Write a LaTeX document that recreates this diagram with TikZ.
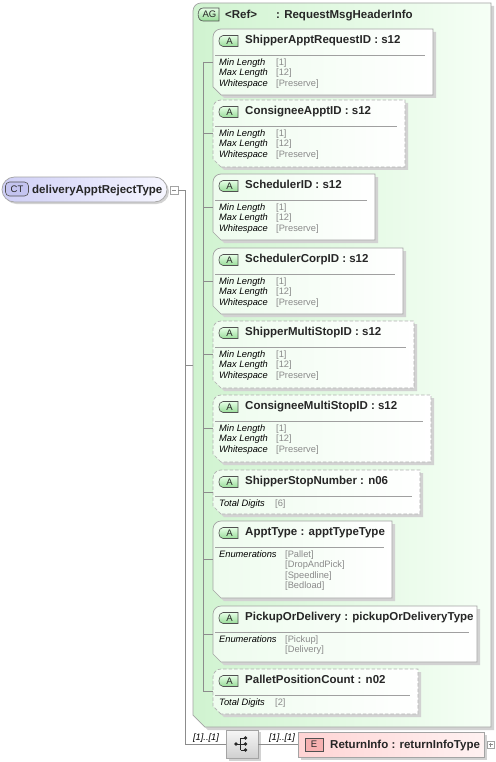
\documentclass[tikz,border=0pt]{standalone}
\usepackage{fontspec}
\setmainfont{Liberation Sans}
\definecolor{lineC}{HTML}{8C8C8C}
\definecolor{borderC}{HTML}{A4A4A4}
\definecolor{dashC}{HTML}{B0B0B0}
\definecolor{sepC}{HTML}{A0A0A0}
\definecolor{shadC}{HTML}{D2D2D2}
\definecolor{agL}{HTML}{D0F3D0}
\definecolor{agR}{HTML}{F6FFF6}
\definecolor{boxL}{HTML}{EEFCEE}
\definecolor{boxR}{HTML}{FFFFFF}
\definecolor{aTop}{HTML}{E6FFE6}
\definecolor{aBot}{HTML}{98DC98}
\definecolor{badgeB}{HTML}{505050}
\definecolor{valC}{HTML}{8A8A8A}
\definecolor{nameC}{HTML}{262626}
\definecolor{ctL}{HTML}{CFCFF6}
\definecolor{ctR}{HTML}{F6F6FF}
\definecolor{ctBadge}{HTML}{C4C4F0}
\definecolor{elL}{HTML}{FFD4D4}
\definecolor{elR}{HTML}{FFF2F2}
\definecolor{eBadge}{HTML}{F6B0B0}
\definecolor{seqT}{HTML}{F6F6F6}
\definecolor{seqB}{HTML}{D0D0D0}
\newcommand\nmfont{\fontsize{11.5}{13}\selectfont\bfseries}
\newcommand\flfont{\fontsize{9.3}{10}\selectfont\itshape}
\newcommand\fvfont{\fontsize{9.3}{10}\selectfont}
\newcommand\bdfont{\fontsize{9.5}{10}\selectfont}
\tikzset{
  x=1pt, y=-1pt,
  conn/.style={draw=lineC, line width=0.6pt},
  boxsolid/.style={draw=borderC, line width=0.7pt},
  boxdash/.style={draw=dashC, line width=0.7pt, dash pattern=on 3.5pt off 2pt},
  sepline/.style={draw=sepC, line width=0.6pt},
  badge/.style={draw=badgeB, line width=0.6pt},
  nmtext/.style={font=\nmfont, text=nameC, anchor=base west, inner sep=0pt},
  bdtext/.style={font=\bdfont, text=nameC, inner sep=0pt},
  fl/.style={font=\flfont, text=black, anchor=base west, inner sep=0pt},
  fv/.style={font=\fvfont, text=valC, anchor=base west, inner sep=0pt},
  pm/.style={draw=borderC, fill=white, line width=0.5pt, minimum size=7.5pt, inner sep=0pt},
  card/.style={font=\flfont, text=black, anchor=base, inner sep=0pt},
}
% #1 id, #2 top, #3 bottom, #4 right, #5 border style, #6 title
\newcommand\abox[6]{%
  \fill[shadC] (224,#3+3) -- (216,#3-5) -- (216,#2+3) -- (#4+3,#2+3) -- (#4+3,#3+3) -- cycle;
  \draw[#5, left color=boxL, right color=boxR] (221,#3) -- (213,#3-8) -- (213,#2+8)
     .. controls (213,#2+3.6) and (216.6,#2) .. (221,#2) -- (#4,#2) -- (#4,#3) -- cycle;
  \draw[badge, top color=aTop, bottom color=aBot] (223,#2+6.5) -- (238,#2+6.5) -- (238,#2+17.5)
     -- (223,#2+17.5) .. controls (217.5,#2+17.5) and (217.5,#2+6.5) .. (223,#2+6.5) -- cycle;
  \node[bdtext] (#1badge) at (229.5,#2+12.2) {A};
  \node[nmtext] (#1name) at (245,#2+14.5) {#6};
  \draw[sepline] (215,#2+26) -- (#4-8,#2+26);
  \coordinate (#1) at (213,{(#2+#3)/2});
}
% #1 id, #2 top
\newcommand\sfacets[2]{%
  \node[fl] (#1l1) at (219,#2+36.3) {Min Length};
  \node[fv] (#1v1) at (276,#2+36.3) {[1]};
  \node[fl] (#1l2) at (219,#2+46.8) {Max Length};
  \node[fv] (#1v2) at (276,#2+46.8) {[12]};
  \node[fl] (#1l3) at (219,#2+57.3) {Whitespace};
  \node[fv] (#1v3) at (276,#2+57.3) {[Preserve]};
}
\begin{document}
\begin{tikzpicture}
\useasboundingbox (0,0) rectangle (495,762);
\fill[white] (0,0) rectangle (495,762);

% ---------- complex type ----------
\fill[shadC, rounded corners=12.5pt] (4,179) rectangle (169,204);
\node[draw=borderC, line width=0.7pt, rounded corners=12.5pt, minimum width=165pt, minimum height=25pt,
      left color=ctL, right color=ctR, inner sep=0pt] (ct) at (84.5,189.5) {};
\node[draw=badgeB, line width=0.6pt, rounded corners=4pt, fill=ctBadge, minimum width=23pt, minimum height=14pt,
      inner sep=0pt, font=\bdfont, text=nameC] (ctbadge) at (17,189) {CT};
\node[nmtext] (ctname) at (32,193.5) {deliveryApptRejectType};
\node[pm] (minus) at (174,190) {};
\draw[lineC, line width=0.6pt] ([xshift=-2pt]minus.center) -- ([xshift=2pt]minus.center);

% ---------- attribute group ----------
\fill[shadC] (208,730) -- (196,718) -- (196,6) -- (494,6) -- (494,730) -- cycle;
\draw[boxsolid, left color=agL, right color=agR] (205,727) -- (193,715) -- (193,11)
   .. controls (193,6.6) and (196.6,3) .. (201,3) -- (491,3) -- (491,727) -- cycle;
\coordinate (ag) at (193,365);
\draw[badge, top color=aTop, bottom color=aBot] (203,8) -- (219,8) -- (219,21) -- (203,21)
   .. controls (196.5,21) and (196.5,8) .. (203,8) -- cycle;
\node[bdtext] (agbadge) at (209.5,14.7) {AG};
\node[nmtext] (agref) at (225,18.5) {<Ref>};
\node[nmtext] (agname) at (276,18.5) {: RequestMsgHeaderInfo};

% ---------- attributes ----------
\abox{b1}{29}{95}{433}{boxsolid}{ShipperApptRequestID : s12}
\sfacets{b1}{29}
\abox{b2}{100}{167}{405}{boxdash}{ConsigneeApptID : s12}
\sfacets{b2}{100}
\abox{b3}{174}{240}{375}{boxsolid}{SchedulerID : s12}
\sfacets{b3}{174}
\abox{b4}{248}{314}{403}{boxsolid}{SchedulerCorpID : s12}
\sfacets{b4}{248}
\abox{b5}{321}{388}{414}{boxdash}{ShipperMultiStopID : s12}
\sfacets{b5}{321}
\abox{b6}{395}{462}{431}{boxdash}{ConsigneeMultiStopID : s12}
\sfacets{b6}{395}
\abox{b7}{470}{514}{420}{boxdash}{ShipperStopNumber : n06}
\node[fl] (b7l1) at (219,506.3) {Total Digits};
\node[fv] (b7v1) at (275,506.3) {[6]};
\abox{b8}{521}{598}{392}{boxsolid}{ApptType : apptTypeType}
\node[fl] (b8l1) at (219,557.3) {Enumerations};
\node[fv] (b8v1) at (285,557.3) {[Pallet]};
\node[fv] (b8v2) at (285,567.8) {[DropAndPick]};
\node[fv] (b8v3) at (285,578.3) {[Speedline]};
\node[fv] (b8v4) at (285,588.8) {[Bedload]};
\abox{b9}{606}{662}{477}{boxsolid}{PickupOrDelivery : pickupOrDeliveryType}
\node[fl] (b9l1) at (219,642.3) {Enumerations};
\node[fv] (b9v1) at (285,642.3) {[Pickup]};
\node[fv] (b9v2) at (285,652.8) {[Delivery]};
\abox{b10}{669}{714}{418}{boxdash}{PalletPositionCount : n02}
\node[fl] (b10l1) at (219,705.3) {Total Digits};
\node[fv] (b10v1) at (275,705.3) {[2]};

% inner trunk
\coordinate (it1) at (203,62);
\coordinate (it2) at (203,691.5);
\draw[conn] (it1) -- (it2);
\foreach \b in {b1,b2,b3,b4,b5,b6,b7,b8,b9,b10}{
  \draw[conn] (\b -| it1) -- (\b);
}

% ---------- sequence + element ----------
\fill[shadC] (229,732) rectangle (261,761);
\node[draw=borderC, line width=0.7pt, top color=seqT, bottom color=seqB, minimum width=32pt, minimum height=28pt,
      inner sep=0pt] (seq) at (242,744) {};
\draw[nameC, line width=0.7pt] ([xshift=-6pt]seq.center) -- ([xshift=-1.5pt]seq.center);
\draw[nameC, line width=0.7pt] ([xshift=-1.5pt,yshift=-6pt]seq.center) -- ([xshift=-1.5pt,yshift=6pt]seq.center);
\foreach \dy in {-6,0,6}{
  \draw[nameC, line width=0.7pt] ([xshift=-1.5pt,yshift=\dy pt]seq.center) -- ([xshift=3pt,yshift=\dy pt]seq.center);
  \fill[nameC] ([xshift=3.5pt,yshift=\dy pt]seq.center) circle (1.9pt);
}
\fill[nameC] ([xshift=-6pt]seq.center) circle (1.9pt);

\fill[shadC] (301,735) rectangle (487,760);
\node[draw=borderC, line width=0.7pt, left color=elL, right color=elR, minimum width=186pt, minimum height=25pt,
      inner sep=0pt] (el) at (391,744.5) {};
\node[draw=badgeB, line width=0.6pt, fill=eBadge, minimum width=18pt, minimum height=13pt, inner sep=0pt,
      font=\bdfont, text=nameC] (ebadge) at (314,744.5) {E};
\node[nmtext] (elname) at (330,748.5) {ReturnInfo : returnInfoType};
\node[pm] (plus) at (490.5,744.5) {};
\draw[lineC, line width=0.6pt] ([xshift=-2pt]plus.center) -- ([xshift=2pt]plus.center)
  ([yshift=-2pt]plus.center) -- ([yshift=2pt]plus.center);

% ---------- outer connectors ----------
\coordinate (ot1) at (185,190);
\coordinate (ot2) at (185,744);
\draw[conn] (minus.east) -- (ot1) -- (ot2) -- (seq.west);
\draw[conn] (ag -| ot1) -- (ag);
\draw[conn] (seq.east) -- (el.west |- seq.east);
\node[card] (c1) at (206,740.5) {[1]..[1]};
\node[card] (c2) at (282,740.5) {[1]..[1]};
\end{tikzpicture}
\end{document}
